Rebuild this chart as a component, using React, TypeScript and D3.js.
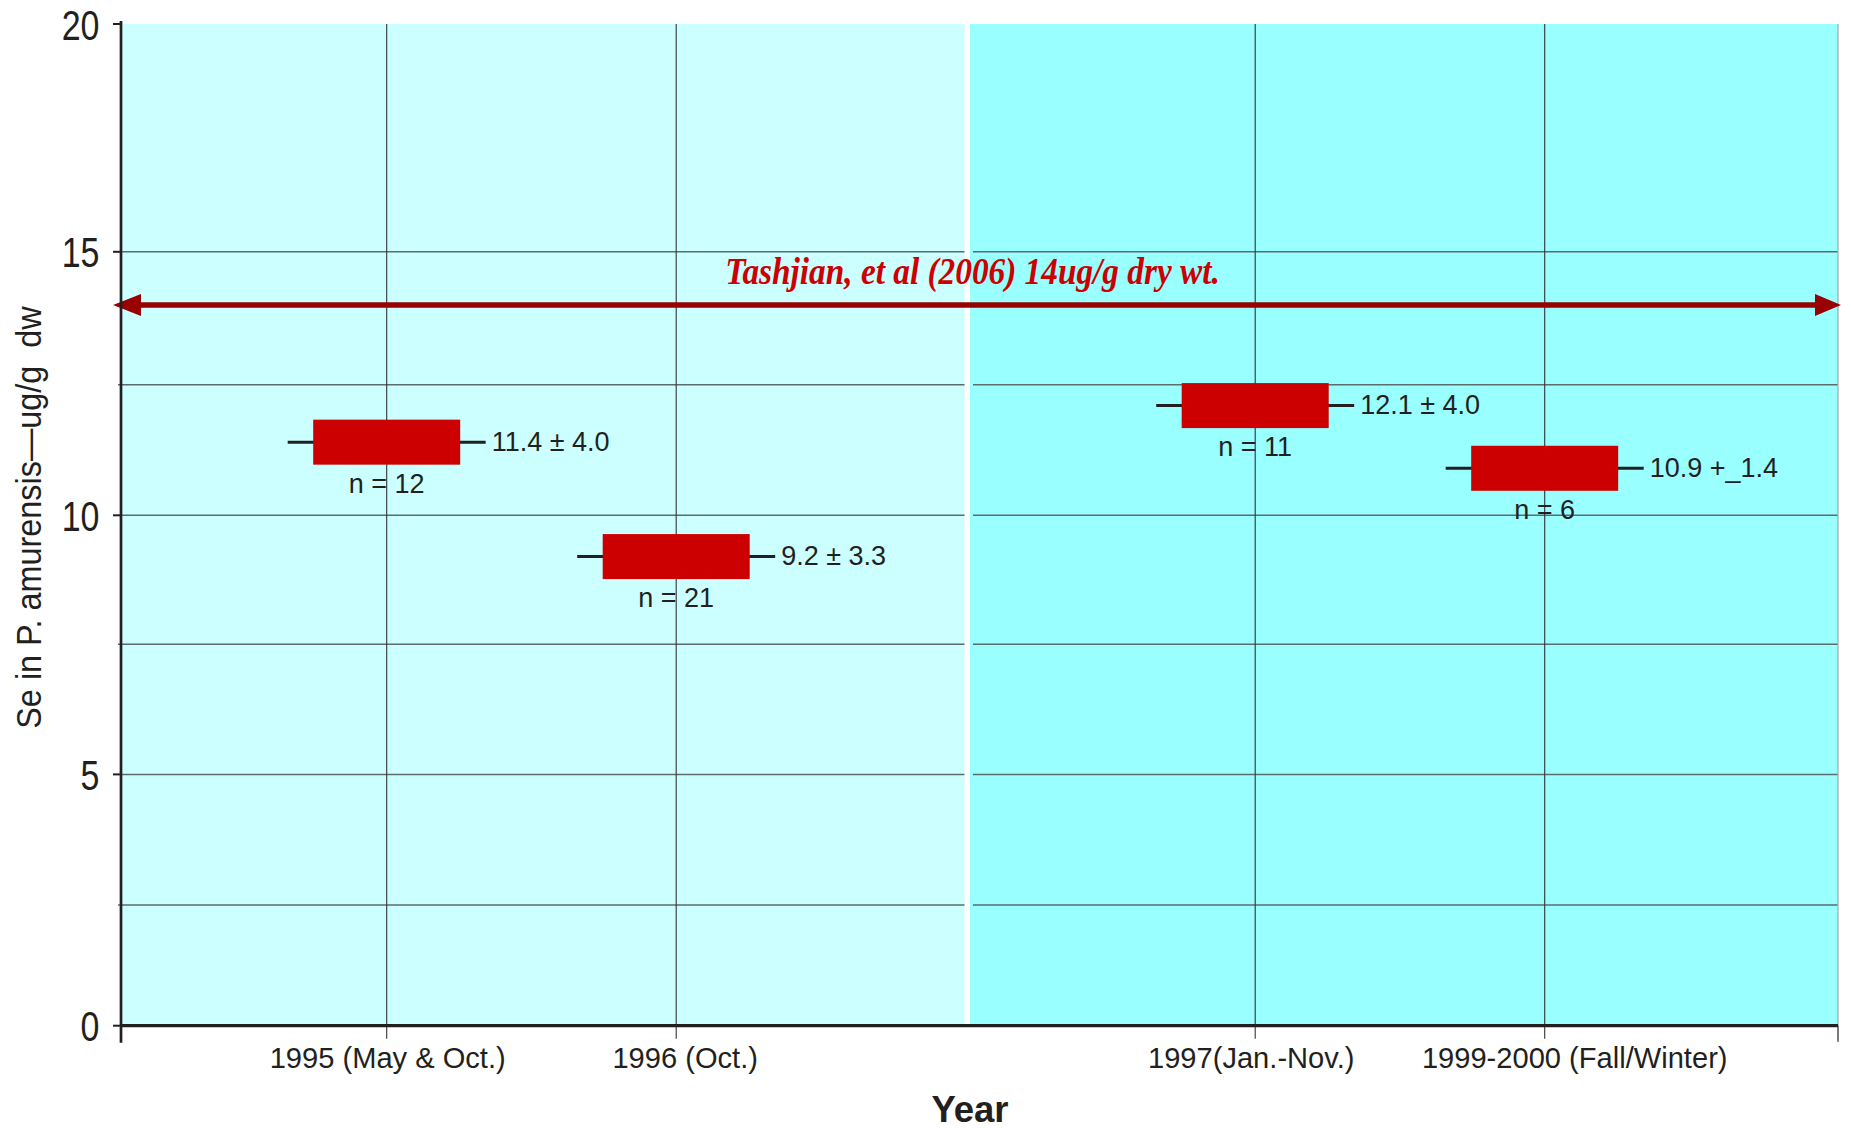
import React from "react";
import * as d3 from "d3";

// ---------- data ----------
const categories = ["1995 (May & Oct.)", "1996 (Oct.)", "1997(Jan.-Nov.)", "1999-2000 (Fall/Winter)"];
const means = [11.4, 9.2, 12.1, 10.9];
const valueLabels = ["11.4 ± 4.0", "9.2 ± 3.3", "12.1 ± 4.0", "10.9 +_1.4"];
const sampleSizes = [12, 21, 11, 6];
const yMajorTicks = [0, 5, 10, 15, 20];
const yMinorTicks = [2.5, 7.5, 12.5];
const refValue = 14;
const refLabel = "Tashjian, et al (2006) 14ug/g dry wt.";
const yTitle = "Se in P. amurensis\u2014ug/g  dw";
const xTitle = "Year";
const GAP = "__gap__";

// ---------- layout ----------
const W = 1851;
const H = 1128;
const L = { left: 121, right: 1838, top: 24, bottom: 1025.7, divL: 964.5, divR: 970 };
const BOX_W = 147;
const BOX_H = 45;
const WHISK = 99;
const LABEL_NUDGE = [1, 9, -4, 30];
const SANS = "'Liberation Sans', Arial, Helvetica, sans-serif";
const SERIF = "'Liberation Serif', 'Times New Roman', serif";
const INK = "#231f20";

// piecewise-linear value scale (the original artwork's axis is not uniform)
const y = d3
  .scaleLinear()
  .domain([0, 2.5, 5, 7.5, 10, 12.5, 15, 20])
  .range([1025.7, 905, 774.4, 644.3, 515.3, 384.7, 251.8, 24]);

const x = d3
  .scalePoint<string>()
  .domain([categories[0], categories[1], GAP, categories[2], categories[3]])
  .range([386.7, 1544.7]);

function T(props: any) {
  const { x: tx, y: ty, sx = 1, rotate = 0, anchor = "start", size, weight = "normal", fstyle = "normal", family = SANS, fill = INK, children } = props;
  return (
    <text
      transform={`translate(${tx},${ty}) rotate(${rotate}) scale(${sx},1)`}
      textAnchor={anchor}
      fontSize={size}
      fontWeight={weight}
      fontStyle={fstyle}
      fontFamily={family}
      fill={fill}
      style={{ whiteSpace: "pre" }}
    >
      {children}
    </text>
  );
}

export default function App() {
  const gridTicks = [...yMinorTicks, 5, 10, 15].sort((a, b) => a - b);
  const ry = y(refValue);
  return (
    <svg width={W} height={H} style={{ position: "absolute", left: 0, top: 0, display: "block", background: "#fff" }}>
      {/* panels */}
      <rect x={L.left} y={L.top} width={L.divL - L.left} height={L.bottom - L.top} fill="#ccffff" />
      <rect x={L.divR} y={L.top} width={L.right - L.divR} height={L.bottom - L.top} fill="#99ffff" />

      {/* horizontal gridlines */}
      {gridTicks.map((t) => (
        <g key={"g" + t}>
          <line x1={yMinorTicks.includes(t) ? L.left - 3 : L.left} x2={L.divL} y1={y(t)} y2={y(t)} stroke="#5f6b6b" strokeWidth={1.5} />
          <line x1={L.divR + 3} x2={L.right} y1={y(t)} y2={y(t)} stroke="#5f6b6b" strokeWidth={1.5} />
        </g>
      ))}

      {/* vertical category gridlines */}
      {categories.map((c) => (
        <line key={"v" + c} x1={x(c)} x2={x(c)} y1={L.top} y2={L.bottom + 13} stroke="#333" strokeWidth={1.1} />
      ))}

      {/* right border */}
      <line x1={L.right} x2={L.right} y1={L.top} y2={L.bottom} stroke="#9aa" strokeWidth={1.2} />

      {/* reference arrow */}
      <line x1={L.left + 18} x2={L.right - 22} y1={ry} y2={ry} stroke="#990000" strokeWidth={5.5} />
      <polygon points={`${L.left - 8},${ry} ${L.left + 20},${ry - 11} ${L.left + 20},${ry + 11}`} fill="#990000" />
      <polygon points={`${L.right + 3},${ry} ${L.right - 23},${ry - 11} ${L.right - 23},${ry + 11}`} fill="#990000" />
      <T x={972.5} y={ry - 21} anchor="middle" size={38} sx={0.877} weight="bold" fstyle="italic" family={SERIF} fill="#cc0000">
        {refLabel}
      </T>

      {/* boxes, whiskers and labels */}
      {categories.map((c, i) => {
        const cx = x(c) as number;
        const cy = y(means[i]);
        return (
          <g key={"b" + c}>
            <line x1={cx - WHISK} x2={cx + WHISK} y1={cy} y2={cy} stroke={INK} strokeWidth={3} />
            <rect x={cx - BOX_W / 2} y={cy - BOX_H / 2} width={BOX_W} height={BOX_H} fill="#cc0000" />
            <T x={cx + WHISK + 6} y={cy + 8.5} size={27}>
              {valueLabels[i]}
            </T>
            <T x={cx} y={cy + BOX_H / 2 + 28} anchor="middle" size={27}>
              {`n = ${sampleSizes[i]}`}
            </T>
          </g>
        );
      })}

      {/* axes */}
      <line x1={L.left} x2={L.left} y1={21} y2={L.bottom + 17} stroke={INK} strokeWidth={2.7} />
      <line x1={L.left} x2={L.right} y1={L.bottom} y2={L.bottom} stroke={INK} strokeWidth={3.2} />
      <line x1={L.right} x2={L.right} y1={L.bottom} y2={L.bottom + 16} stroke={INK} strokeWidth={1.2} />
      {yMajorTicks.map((t) => (
        <g key={"t" + t}>
          <line x1={L.left - 8} x2={L.left} y1={y(t)} y2={y(t)} stroke={INK} strokeWidth={2} />
          <T x={99.5} y={y(t) + 15.5} anchor="end" size={43} sx={0.79}>
            {String(t)}
          </T>
        </g>
      ))}

      {/* category labels */}
      {categories.map((c, i) => (
        <T key={"l" + c} x={(x(c) as number) + LABEL_NUDGE[i]} y={1068.3} anchor="middle" size={30} sx={0.97}>
          {c}
        </T>
      ))}

      {/* titles */}
      <T x={970} y={1121.5} anchor="middle" size={36.5} weight="bold">
        {xTitle}
      </T>
      <T x={41} y={517.5} rotate={-90} anchor="middle" size={36} sx={0.9}>
        {yTitle}
      </T>
    </svg>
  );
}
